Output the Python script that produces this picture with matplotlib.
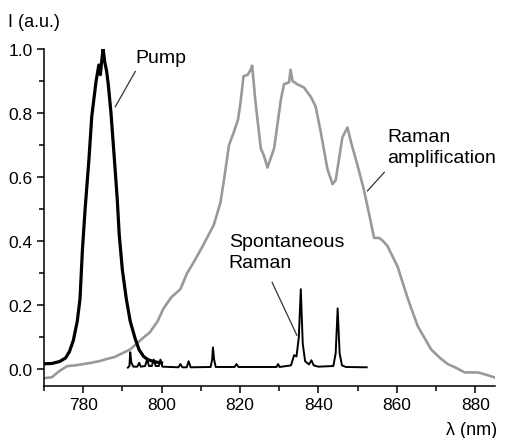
import numpy as np
import matplotlib
matplotlib.use('Agg')
import matplotlib.pyplot as plt
from matplotlib.ticker import MultipleLocator

plt.rcParams['font.family'] = ['Liberation Sans', 'DejaVu Sans']

# Pump spectrum (black, thick)
pump_wl = [770, 772, 774, 775.5, 776.5, 777.5, 778.5, 779.2, 779.8, 780.5, 781.5, 782.2,
           783.3, 784.0, 784.4, 784.7, 785.1, 785.5, 786.0, 786.4, 787.1, 788.0, 788.7,
           789.2, 790.0, 791.0, 792.0, 793.3, 794.3, 795.4, 796.5, 797.5, 798.8, 800.0]
pump_I = [0.017, 0.018, 0.024, 0.035, 0.055, 0.09, 0.15, 0.22, 0.37, 0.50, 0.66, 0.79,
          0.90, 0.95, 0.92, 0.96, 1.0, 0.96, 0.93, 0.89, 0.80, 0.65, 0.53,
          0.42, 0.31, 0.22, 0.15, 0.094, 0.06, 0.04, 0.03, 0.026, 0.022, 0.02]

# Raman amplification spectrum (grey)
amp_wl = [770, 772, 774, 776, 778, 780, 782, 784.4, 786, 788, 790, 792, 793.5, 795, 797,
          799, 800.5, 802.5, 804.8, 806.5, 808, 809.1, 810.5, 812, 813.3, 815, 815.9,
          817.2, 818.4, 819.5, 820.1, 820.9, 822.0, 822.7, 823.1, 823.9, 825.3, 826.1,
          827.0, 828.7, 830.4, 831.2, 832.5, 832.9, 833.4, 834.6, 836.3, 838.1, 839.3,
          840.6, 842.3, 843.6, 844.4, 846.1, 847.4, 848.3, 850.0, 851.6, 853.0, 854.2,
          855.5, 856.5, 857.6, 860.2, 862.8, 865.3, 868.7, 871, 873, 875, 877.3, 880.7,
          883, 885]
amp_I = [-0.028, -0.025, -0.005, 0.01, 0.012, 0.016, 0.02, 0.026, 0.032, 0.038, 0.05,
         0.062, 0.078, 0.095, 0.115, 0.15, 0.19, 0.225, 0.25, 0.30, 0.33, 0.354, 0.385,
         0.42, 0.45, 0.52, 0.59, 0.70, 0.74, 0.78, 0.83, 0.915, 0.92, 0.935, 0.948, 0.84,
         0.69, 0.667, 0.63, 0.69, 0.84, 0.89, 0.896, 0.935, 0.90, 0.89, 0.88, 0.85, 0.82,
         0.74, 0.625, 0.578, 0.59, 0.724, 0.755, 0.71, 0.635, 0.56, 0.48, 0.41, 0.41,
         0.40, 0.385, 0.32, 0.22, 0.135, 0.0625, 0.035, 0.016, 0.005, -0.01, -0.01,
         -0.018, -0.026]

# Spontaneous Raman spectrum (black, thin)
spont_wl = [791.4, 791.8, 792.0, 792.3, 792.8, 793.8, 794.3, 794.7, 795.8, 796.3, 796.8,
            797.5, 798.0, 798.5, 799.3, 799.7, 800.2, 804.3, 804.8, 805.3, 806.4, 806.9,
            807.4, 812.5, 812.9, 813.1, 813.4, 813.8, 818.6, 819.1, 819.6, 829.3, 829.7,
            830.1, 833.0, 833.8, 834.4, 835.0, 835.5, 836.0, 836.6, 837.6, 838.2, 838.8,
            840.0, 843.8, 844.4, 844.9, 845.4, 846.0, 847.0, 852.3]
spont_I = [0.005, 0.01, 0.053, 0.02, 0.008, 0.008, 0.02, 0.008, 0.01, 0.03, 0.01,
           0.01, 0.03, 0.01, 0.01, 0.03, 0.008, 0.006, 0.016, 0.006, 0.006, 0.025,
           0.006, 0.007, 0.03, 0.068, 0.03, 0.007, 0.007, 0.016, 0.007, 0.007, 0.016,
           0.007, 0.012, 0.044, 0.04, 0.10, 0.25, 0.08, 0.025, 0.015, 0.028, 0.012,
           0.008, 0.01, 0.05, 0.19, 0.05, 0.012, 0.007, 0.006]

fig = plt.figure(figsize=(5.05, 4.39), dpi=100)
ax = fig.add_axes([0.087, 0.118, 0.893, 0.768])

ax.plot(amp_wl, amp_I, color='#999999', lw=1.9)
ax.plot(pump_wl, pump_I, color='black', lw=2.3)
ax.plot(spont_wl, spont_I, color='black', lw=1.4)

# labels with leader lines
ax.text(793.3, 0.975, 'Pump', fontsize=14, ha='left', va='center')
ax.plot([793.3, 788.2], [0.93, 0.82], color='#333333', lw=0.9)
ax.text(857.6, 0.695, 'Raman\namplification', fontsize=14, ha='left', va='center',
        linespacing=1.3)
ax.plot([856.8, 852.5], [0.615, 0.557], color='#333333', lw=0.9)
ax.text(817.1, 0.365, 'Spontaneous\nRaman', fontsize=14, ha='left', va='center',
        linespacing=1.3)
ax.plot([828.2, 834.5], [0.271, 0.106], color='#333333', lw=0.9)

ax.set_xlim(770, 885)
ax.set_ylim(-0.053, 1.0)
ax.xaxis.set_major_locator(MultipleLocator(20))
ax.xaxis.set_minor_locator(MultipleLocator(10))
ax.yaxis.set_major_locator(MultipleLocator(0.2))
ax.yaxis.set_minor_locator(MultipleLocator(0.1))
ax.yaxis.set_major_formatter(matplotlib.ticker.FormatStrFormatter('%.1f'))
ax.tick_params(which='major', direction='out', length=5, width=1.1, labelsize=12.5, pad=3)
ax.tick_params(which='minor', direction='out', length=3.5, width=1.1)
for s in ['top', 'right']:
    ax.spines[s].set_visible(False)
for s in ['left', 'bottom']:
    ax.spines[s].set_linewidth(1.1)

fig.text(0.016, 0.948, 'I (a.u.)', fontsize=13, ha='left', va='center')
fig.text(0.984, 0.0205, 'λ (nm)', fontsize=13, ha='right', va='center')

fig.savefig('out.png', dpi=100)
